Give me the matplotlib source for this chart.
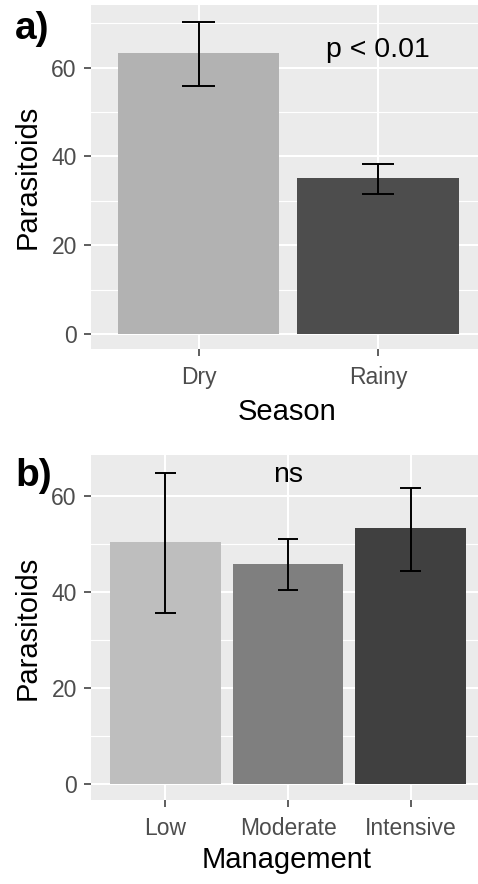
import matplotlib
matplotlib.use("Agg")
import matplotlib.pyplot as plt
from matplotlib.ticker import MultipleLocator

plt.rcParams['font.family'] = ['Liberation Sans', 'DejaVu Sans']

# Panel a data
season = ["Dry", "Rainy"]
season_mean = [63.2, 35.2]
season_low = [55.9, 31.5]
season_high = [70.3, 38.3]
season_colors = ["#B2B2B2", "#4D4D4D"]

# Panel b data
management = ["Low", "Moderate", "Intensive"]
mgmt_mean = [50.5, 45.8, 53.4]
mgmt_low = [35.7, 40.4, 44.5]
mgmt_high = [64.9, 51.1, 61.6]
mgmt_colors = ["#BEBEBE", "#7F7F7F", "#404040"]

yticks = [0, 20, 40, 60]

W, H = 478, 884
fig = plt.figure(figsize=(W / 100, H / 100), dpi=100)


def style(ax):
    ax.set_facecolor("#EBEBEB")
    for s in ax.spines.values():
        s.set_visible(False)
    ax.yaxis.set_major_locator(MultipleLocator(20))
    ax.yaxis.set_minor_locator(MultipleLocator(10))
    ax.grid(which="major", color="white", linewidth=1.5)
    ax.grid(which="minor", axis="y", color="white", linewidth=0.8)
    ax.tick_params(axis="x", which="minor", bottom=False)
    ax.tick_params(which="major", length=5, width=1.1, color="#333333",
                   labelsize=16.5, labelcolor="#4D4D4D")
    ax.tick_params(axis="y", which="minor", left=False)
    ax.tick_params(axis="y", pad=5)
    ax.tick_params(axis="x", pad=7.5)
    ax.set_axisbelow(True)


def panel(rect, cats, means, lows, highs, colors, xlim, ylim, cap, xlabel, ann, ann_y, xl_y, yl_x):
    ax = fig.add_axes(rect)
    style(ax)
    x = list(range(1, len(cats) + 1))
    ax.bar(x, means, width=0.9, color=colors, zorder=2)
    ax.vlines(x, lows, highs, color="black", linewidth=1.4, zorder=3)
    ax.hlines(lows, [v - cap / 2 for v in x], [v + cap / 2 for v in x], color="black", linewidth=1.4, zorder=3)
    ax.hlines(highs, [v - cap / 2 for v in x], [v + cap / 2 for v in x], color="black", linewidth=1.4, zorder=3)
    ax.set_xticks(x)
    ax.set_xticklabels(cats)
    ax.set_yticks(yticks)
    ax.set_xlim(*xlim)
    ax.set_ylim(*ylim)
    ax.set_xlabel(xlabel, fontsize=21, va="center")
    ax.set_ylabel("Parasitoids", fontsize=21, va="center")
    ax.xaxis.set_label_coords(0.5 - 0.0, xl_y)
    ax.yaxis.set_label_coords(yl_x, 0.5)
    ax.text(2, ann_y, ann, fontsize=20.5, ha="center", va="center", zorder=4)
    return ax


ax1 = panel([90.7 / W, 1 - 349 / H, 1 - 90.7 / W, (349 - 5) / H],
            season, season_mean, season_low, season_high, season_colors,
            (0.4, 2.555), (-3.4, 74.1), 0.18, "Season", "p < 0.01", 64,
            (349 - 412) / 344, (28 - 90.7) / 387.3)
ax2 = panel([90.7 / W, 1 - 799.7 / H, 1 - 90.7 / W, (799.7 - 455.3) / H],
            management, mgmt_mean, mgmt_low, mgmt_high, mgmt_colors,
            (0.39, 3.55), (-3.2, 68.5), 0.165, "Management", "ns", 64.4,
            (799.7 - 860) / 344.4, (28 - 90.7) / 387.3)
# center the x labels on the visible panel region like ggplot
ax1.xaxis.set_label_coords((287 - 90.7) / 387.3, (349 - 412) / 344)
ax2.xaxis.set_label_coords((287 - 90.7) / 387.3, (799.7 - 860) / 344.4)

fig.text(32 / W, 1 - 29 / H, "a)", fontsize=28, fontweight="bold", ha="center", va="center")
fig.text(34 / W, 1 - 476 / H, "b)", fontsize=28, fontweight="bold", ha="center", va="center")

fig.savefig("out.png", dpi=100)
